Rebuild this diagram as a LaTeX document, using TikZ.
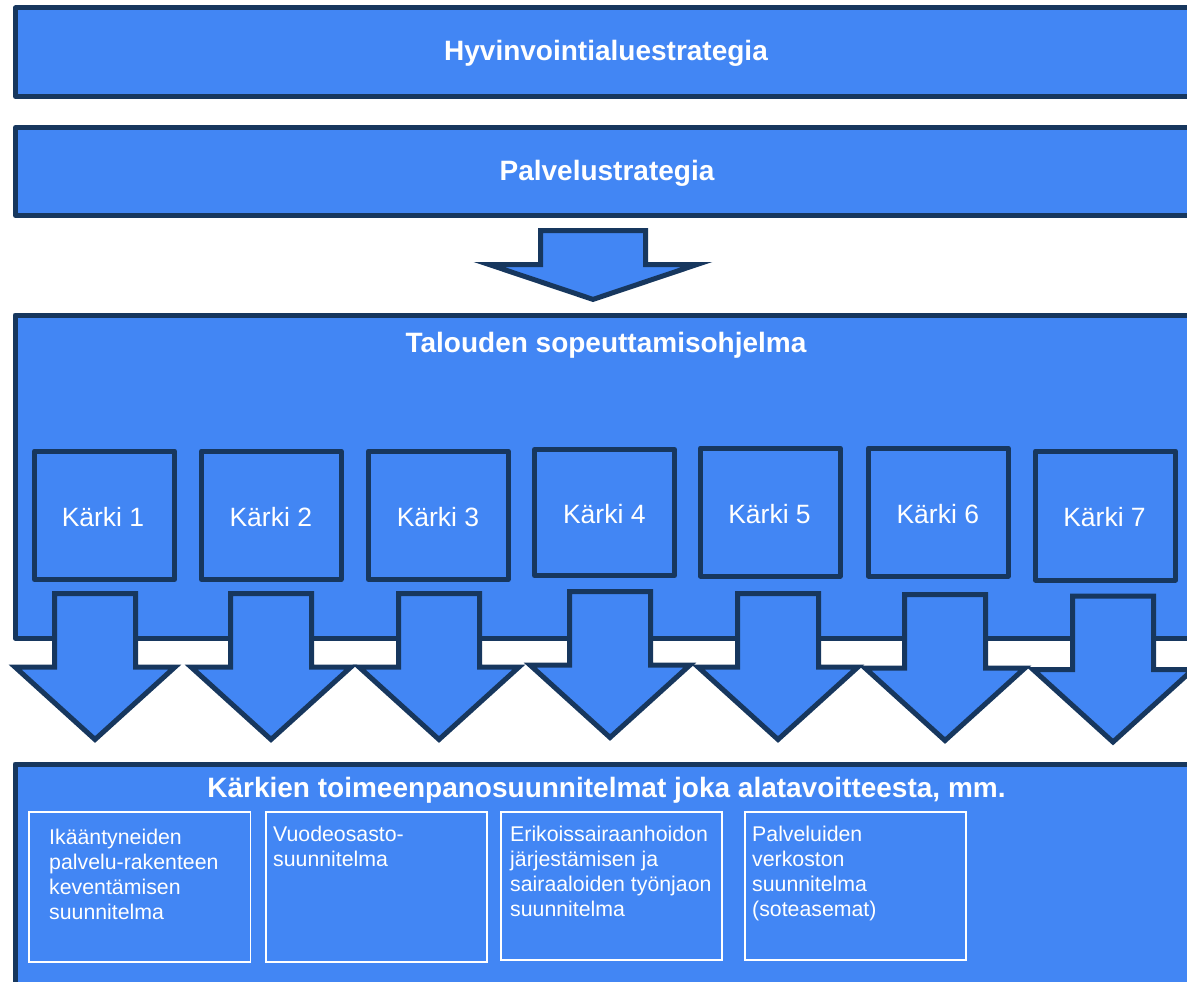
\documentclass[tikz,border=0pt]{standalone}
\usepackage{fontspec}
\setmainfont{Liberation Sans}
\definecolor{fillblue}{RGB}{66,134,244}
\definecolor{edgeblue}{RGB}{23,55,94}
\newcommand\blockarrow[7]{%
  \draw[arr] ({#1-#5},#2) -- ({#1+#5},#2) -- ({#1+#5},#3) -- ({#1+#6},#3) -- (#1,#4) -- ({#1-#6},#3) -- ({#1-#5},#3) -- cycle;
  \coordinate (#7) at (#1,#4);}
\newcommand\smallarrow[3]{\blockarrow{#1}{593.5+#2}{667+#2}{739.5+#2}{40.5}{80}{#3}}
\begin{document}
\begin{tikzpicture}[x=1pt,y=-1pt,
  blk/.style={draw=edgeblue,fill=fillblue,line width=5pt,line join=round,inner sep=0pt,rectangle},
  arr/.style={draw=edgeblue,fill=fillblue,line width=5pt,line join=miter,miter limit=20},
  wbox/.style={draw=white,line width=1.5pt,inner sep=0pt,rectangle},
  ttl/.style={text=white,font=\fontsize{28}{33}\selectfont\bfseries,anchor=base,inner sep=0pt},
  kt/.style={text=white,font=\fontsize{26.5}{32}\selectfont,anchor=base,inner sep=0pt},
  bt/.style={text=white,font=\fontsize{21.3}{25}\selectfont,anchor=base west,inner sep=0pt}]
\useasboundingbox (0,0) rectangle (1187,982);
\clip (0,0) rectangle (1187,982);

% top boxes
\node[blk,minimum width=1184.5pt,minimum height=88.5pt] (hyv) at (607.75,52.25) {};
\node[blk,minimum width=1184.5pt,minimum height=88pt] (pal) at (607.75,171.5) {};
\node[ttl] (hyvt) at (606,61) {Hyvinvointialuestrategia};
\node[ttl] (palt) at (607,180.5) {Palvelustrategia};

% big arrow
\draw[arr] (540.5,230.5) -- (645.5,230.5) -- (645.5,264.5) -- (697,264.5) -- (593,299.4) -- (489,264.5) -- (540.5,264.5) -- cycle;

% economy programme box
\node[blk,minimum width=1185pt,minimum height=323pt] (tal) at (607.5,476.5) {};
\node[ttl] (talt) at (606,352) {Talouden sopeuttamisohjelma};

% karki boxes
\node[blk,minimum width=140pt,minimum height=128.5pt] (k1) at (104.5,515.25) {};
\node[blk,minimum width=139.5pt,minimum height=128.5pt] (k2) at (271.25,515.25) {};
\node[blk,minimum width=139.5pt,minimum height=128.5pt] (k3) at (438.25,515.25) {};
\node[blk,minimum width=140pt,minimum height=126pt] (k4) at (604.5,512.5) {};
\node[blk,minimum width=139.5pt,minimum height=128pt] (k5) at (770.25,512) {};
\node[blk,minimum width=139.5pt,minimum height=128pt] (k6) at (938.25,512) {};
\node[blk,minimum width=140pt,minimum height=129pt] (k7) at (1105.5,515.5) {};
\node[kt] (k1t) at (103,526) {Kärki 1};
\node[kt] (k2t) at (270.8,526) {Kärki 2};
\node[kt] (k3t) at (438,526) {Kärki 3};
\node[kt] (k4t) at (604.3,523) {Kärki 4};
\node[kt] (k5t) at (769.5,523) {Kärki 5};
\node[kt] (k6t) at (937.8,523) {Kärki 6};
\node[kt] (k7t) at (1104.5,526) {Kärki 7};

% small arrows
\smallarrow{95}{0}{a1}
\smallarrow{271}{0}{a2}
\smallarrow{439}{0}{a3}
\smallarrow{610}{-2}{a4}
\smallarrow{778}{0}{a5}
\smallarrow{945}{1}{a6}
\smallarrow{1113}{2.5}{a7}

% bottom box
\node[blk,minimum width=1185pt,minimum height=246pt] (bot) at (607.5,887) {};
\node[ttl] (bott) at (606.5,797) {Kärkien toimeenpanosuunnitelmat joka alatavoitteesta, mm.};

\node[wbox,minimum width=221.7pt,minimum height=150pt] (b1) at (139.85,887) {};
\node[wbox,minimum width=221.3pt,minimum height=150pt] (b2) at (376.5,887) {};
\node[wbox,minimum width=221pt,minimum height=148pt] (b3) at (611.5,886) {};
\node[wbox,minimum width=221pt,minimum height=148pt] (b4) at (855.5,886) {};

\node[bt] (b1t) at (49,844) {\vtop{\hbox{Ikääntyneiden}\hbox{palvelu-rakenteen}\hbox{keventämisen}\hbox{suunnitelma}}};
\node[bt] (b2t) at (273,841) {\vtop{\hbox{Vuodeosasto-}\hbox{suunnitelma}}};
\node[bt] (b3t) at (510,841) {\vtop{\hbox{Erikoissairaanhoidon}\hbox{järjestämisen ja}\hbox{sairaaloiden työnjaon}\hbox{suunnitelma}}};
\node[bt] (b4t) at (752,841) {\vtop{\hbox{Palveluiden}\hbox{verkoston}\hbox{suunnitelma}\hbox{(soteasemat)}}};
\end{tikzpicture}
\end{document}
